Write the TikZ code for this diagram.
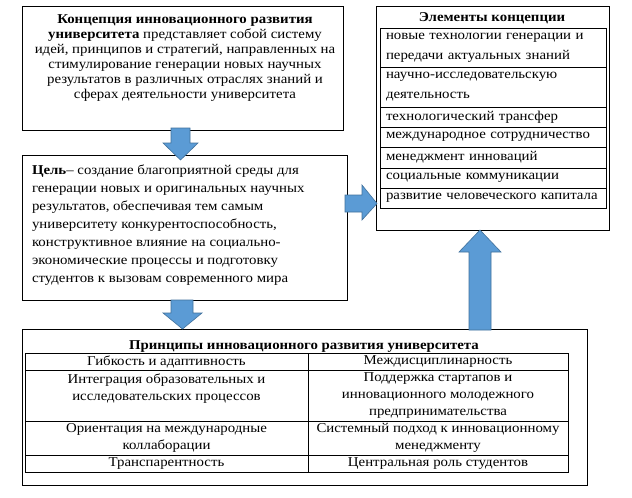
\documentclass[tikz,border=0pt]{standalone}
\usepackage{fontspec}
\setmainfont{Liberation Serif}[FakeStretch=1.1]
\usetikzlibrary{calc}
\definecolor{arrowfill}{HTML}{5B9BD5}
\definecolor{arrowdraw}{HTML}{41719C}
\begin{document}
\begin{tikzpicture}[x=1pt,y=-1pt,
  frame/.style={draw=black, line width=0.9pt, anchor=north west, inner sep=0pt, outer sep=0pt},
  ecell/.style={draw=black, line width=0.8pt, anchor=north west, outer sep=0pt,
     minimum width=226pt, text width=214pt, inner xsep=6pt, inner ysep=0pt, align=left,
     font=\fontsize{13.5}{20}\selectfont},
  pcell/.style={draw=black, line width=0.8pt, anchor=north west, outer sep=0pt,
     inner xsep=2pt, inner ysep=0pt, align=center,
     font=\fontsize{13.5}{17}\selectfont},
  txt/.style={inner sep=0pt, outer sep=0pt},
  blockarrow/.style={fill=arrowfill, draw=arrowdraw, line width=0.6pt, line join=miter},
]
\useasboundingbox[fill=white] (0,0) rectangle (632,498);

% --- concept box
\node[frame, minimum width=321pt, minimum height=124pt] (concept) at (22,6) {};
\node[txt, anchor=north, align=center, font=\fontsize{13.5}{15}\selectfont] (concepttext) at (185,15)
 {\textbf{Концепция инновационного развития}\\
  \textbf{университета} представляет собой систему\\
  идей, принципов и стратегий, направленных на\\
  стимулирование генерации новых научных\\
  результатов в различных отраслях знаний и\\
  сферах деятельности университета};

% --- goal box
\node[frame, minimum width=325pt, minimum height=145pt] (goal) at (22,155) {};
\node[txt, anchor=north west, align=left, font=\fontsize{13.5}{18}\selectfont] (goaltext) at (32,165)
 {\textbf{Цель}– создание благоприятной среды для\\
  генерации новых и оригинальных научных\\
  результатов, обеспечивая тем самым\\
  университету конкурентоспособность,\\
  конструктивное влияние на социально-\\
  экономические процессы и подготовку\\
  студентов к вызовам современного мира};

% --- elements box
\node[frame, minimum width=233pt, minimum height=224pt] (elements) at (376,6) {};
\node[txt, anchor=base, font=\fontsize{13.5}{15}\selectfont\bfseries] (eltitle) at (492,21) {Элементы концепции};
\node[ecell, minimum height=39pt] (e1) at (380,28) {\mbox{новые технологии генерации и}\\\mbox{передачи актуальных знаний}};
\node[ecell, minimum height=40pt] (e2) at (380,67) {\mbox{научно-исследовательскую}\\\mbox{деятельность}};
\node[ecell, minimum height=20pt] (e3) at (380,107) {\mbox{технологический трансфер}};
\node[ecell, minimum height=20pt] (e4) at (380,127) {\mbox{международное сотрудничество}};
\node[ecell, minimum height=21pt] (e5) at (380,147) {\mbox{менеджмент инноваций}};
\node[ecell, minimum height=20pt] (e6) at (380,168) {\mbox{социальные коммуникации}};
\node[ecell, minimum height=20pt] (e7) at (380,188) {\mbox{развитие человеческого капитала}};

% --- principles box
\node[frame, minimum width=565pt, minimum height=156pt] (principles) at (22,329) {};
\node[txt, anchor=base, font=\fontsize{13.5}{15}\selectfont\bfseries] (prtitle) at (304,349) {Принципы инновационного развития университета};
\node[pcell, minimum width=283pt, minimum height=17pt] (p11) at (25,353) {Гибкость и адаптивность};
\node[pcell, minimum width=260pt, minimum height=17pt] (p12) at (308,353) {Междисциплинарность};
\node[pcell, minimum width=283pt, minimum height=51pt] (p21) at (25,370) {Интеграция образовательных и\\исследовательских процессов\\\mbox{}};
\node[pcell, minimum width=260pt, minimum height=51pt] (p22) at (308,370) {Поддержка стартапов и\\инновационного молодежного\\предпринимательства};
\node[pcell, minimum width=283pt, minimum height=34pt] (p31) at (25,421) {Ориентация на международные\\коллаборации};
\node[pcell, minimum width=260pt, minimum height=34pt] (p32) at (308,421) {Системный подход к инновационному\\менеджменту};
\node[pcell, minimum width=283pt, minimum height=17pt] (p41) at (25,455) {Транспарентность};
\node[pcell, minimum width=260pt, minimum height=17pt] (p42) at (308,455) {Центральная роль студентов};

% --- block arrows
% concept -> goal
\draw[blockarrow] (171,128) -- (190,128) -- (190,143) -- (198,143) -- (180.5,160) -- (163,143) -- (171,143) -- cycle;
% goal -> principles
\draw[blockarrow] (171,300) -- (193,300) -- (193,313) -- (202,313) -- (182.5,329) -- (163,313) -- (171,313) -- cycle;
% goal -> elements
\draw[blockarrow] (345,195) -- (362,195) -- (362,185) -- (377,203.5) -- (362,220) -- (362,212) -- (345,212) -- cycle;
% principles -> elements
\draw[blockarrow] (469,330) -- (469,252) -- (459,252) -- (480,230) -- (501,252) -- (491,252) -- (491,330) -- cycle;
\end{tikzpicture}
\end{document}
